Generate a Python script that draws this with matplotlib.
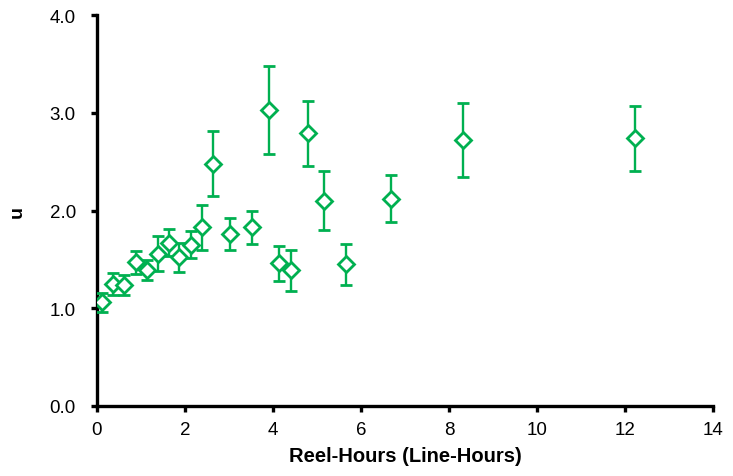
import matplotlib
matplotlib.use("Agg")
import matplotlib.pyplot as plt

# ── Data ───────────────────────────────────────────────────────────────────
reel_hours = [0.12, 0.37, 0.63, 0.88, 1.13, 1.39, 1.63, 1.87, 2.13, 2.39, 2.64,
              3.02, 3.53, 3.91, 4.15, 4.42, 4.79, 5.17, 5.67, 6.68, 8.32, 12.23]
u_values = [1.06, 1.25, 1.24, 1.47, 1.39, 1.56, 1.67, 1.52, 1.65, 1.83, 2.48,
            1.76, 1.83, 3.03, 1.46, 1.39, 2.79, 2.10, 1.45, 2.12, 2.72, 2.74]
u_errors = [0.10, 0.11, 0.10, 0.12, 0.10, 0.18, 0.14, 0.15, 0.14, 0.23, 0.33,
            0.16, 0.17, 0.45, 0.18, 0.21, 0.33, 0.30, 0.21, 0.24, 0.38, 0.33]

x_ticks = [0, 2, 4, 6, 8, 10, 12, 14]
y_ticks = [0.0, 1.0, 2.0, 3.0, 4.0]

GREEN = "#00B050"

plt.rcParams["font.family"] = ["Liberation Sans", "DejaVu Sans"]

fig = plt.figure(figsize=(7.33, 4.77), dpi=100)
ax = fig.add_axes([0.132, 0.147, 0.841, 0.819])

ax.errorbar(reel_hours, u_values, yerr=u_errors, fmt="D", color=GREEN,
            ecolor=GREEN, elinewidth=1.7, capsize=4, capthick=1.7,
            markersize=8.5, markerfacecolor="white", markeredgecolor=GREEN,
            markeredgewidth=2.0, zorder=3)

ax.set_xlim(0, 14)
ax.set_ylim(0, 4.0)
ax.set_xticks(x_ticks)
ax.set_yticks(y_ticks)
ax.set_yticklabels([f"{v:.1f}" for v in y_ticks])

for side in ("top", "right"):
    ax.spines[side].set_visible(False)
for side in ("left", "bottom"):
    ax.spines[side].set_linewidth(2.4)
    ax.spines[side].set_color("black")

ax.tick_params(axis="both", direction="out", length=4, width=2.4,
               labelsize=13.5, colors="black")
ax.tick_params(axis="x", pad=7)
ax.tick_params(axis="y", pad=11)

ax.set_xlabel("Reel-Hours (Line-Hours)", fontsize=14.5, fontweight="bold", labelpad=6)
ax.set_ylabel("u", fontsize=14, fontweight="bold", labelpad=17)

fig.savefig("out.png", dpi=100, facecolor="white")
